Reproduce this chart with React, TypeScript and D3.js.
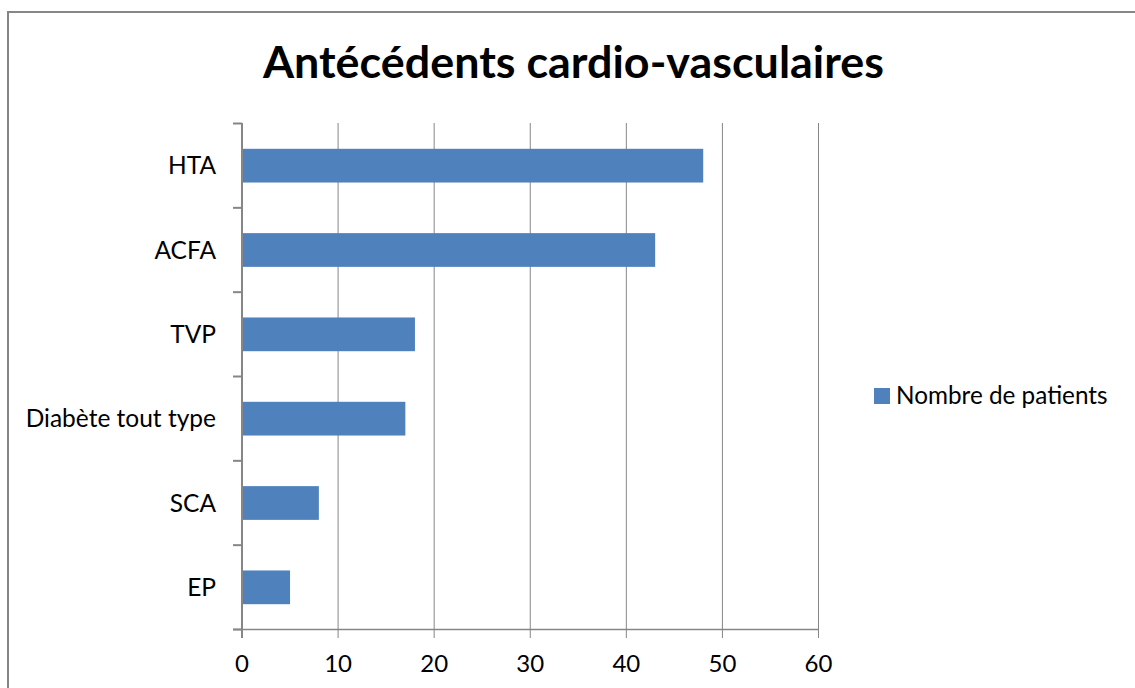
import React from "react";
import * as d3 from "d3";

const categories: string[] = ["HTA", "ACFA", "TVP", "Diabète tout type", "SCA", "EP"];
const values: number[] = [48, 43, 18, 17, 8, 5];
const xTicks: number[] = [0, 10, 20, 30, 40, 50, 60];
const seriesName = "Nombre de patients";
const title = "Antécédents cardio-vasculaires";

const W = 1135;
const H = 688;
const FONT = "Lato, 'Open Sans', sans-serif";
const GRAY = "#868686";
const BAR = "#4F81BD";

export default function App() {
  const x = d3.scaleLinear().domain([0, 60]).range([242, 818.5]);
  const y = d3
    .scaleBand<string>()
    .domain(categories)
    .range([123.5, 629.5])
    .paddingInner(0.6)
    .paddingOuter(0.3);
  const step = y.step();
  const boundaries = d3.range(categories.length + 1).map((i) => 123.5 + i * step);

  return (
    <svg
      width={W}
      height={H}
      style={{ position: "absolute", left: 0, top: 0, background: "#fff" }}
      fontFamily={FONT}
    >
      <rect x={0} y={0} width={W} height={H} fill="#fff" />
      {/* outer frame */}
      <rect x={8} y={12} width={W + 20} height={H + 20} fill="none" stroke={GRAY} strokeWidth={2} />

      <text
        x={573.5}
        y={78}
        textAnchor="middle"
        fontSize={43}
        fontWeight={700}
        fill="#000"
        textLength={621}
        lengthAdjust="spacingAndGlyphs"
      >
        {title}
      </text>

      {/* gridlines */}
      {xTicks.slice(1).map((t) => (
        <line key={"g" + t} x1={x(t)} x2={x(t)} y1={123} y2={629.5} stroke={GRAY} strokeWidth={1} />
      ))}

      {/* bars */}
      {categories.map((c, i) => (
        <rect key={c} x={x(0)} y={y(c)} width={x(values[i]) - x(0)} height={y.bandwidth()} fill={BAR} />
      ))}

      {/* y axis */}
      <line x1={242} x2={242} y1={123} y2={630} stroke={GRAY} strokeWidth={2} />
      {boundaries.map((b, i) => (
        <line key={"yt" + i} x1={233} x2={242} y1={b} y2={b} stroke={GRAY} strokeWidth={2} />
      ))}
      {categories.map((c) => (
        <text key={"l" + c} x={216} y={(y(c) as number) + y.bandwidth() / 2 + 8.5} textAnchor="end" fontSize={24.5} fill="#000">
          {c}
        </text>
      ))}

      {/* x axis */}
      <line x1={233} x2={819} y1={629.5} y2={629.5} stroke={GRAY} strokeWidth={1.5} />
      {xTicks.map((t) => (
        <line key={"xt" + t} x1={x(t)} x2={x(t)} y1={629.5} y2={638} stroke={GRAY} strokeWidth={t === 0 ? 2 : 1} />
      ))}
      {xTicks.map((t) => (
        <text key={"xl" + t} x={x(t)} y={672} textAnchor="middle" fontSize={24} fill="#000">
          {t}
        </text>
      ))}

      {/* legend */}
      <rect x={874} y={388} width={16} height={16} fill={BAR} />
      <text x={896} y={403.5} fontSize={24.3} fill="#000">
        {seriesName}
      </text>
    </svg>
  );
}
